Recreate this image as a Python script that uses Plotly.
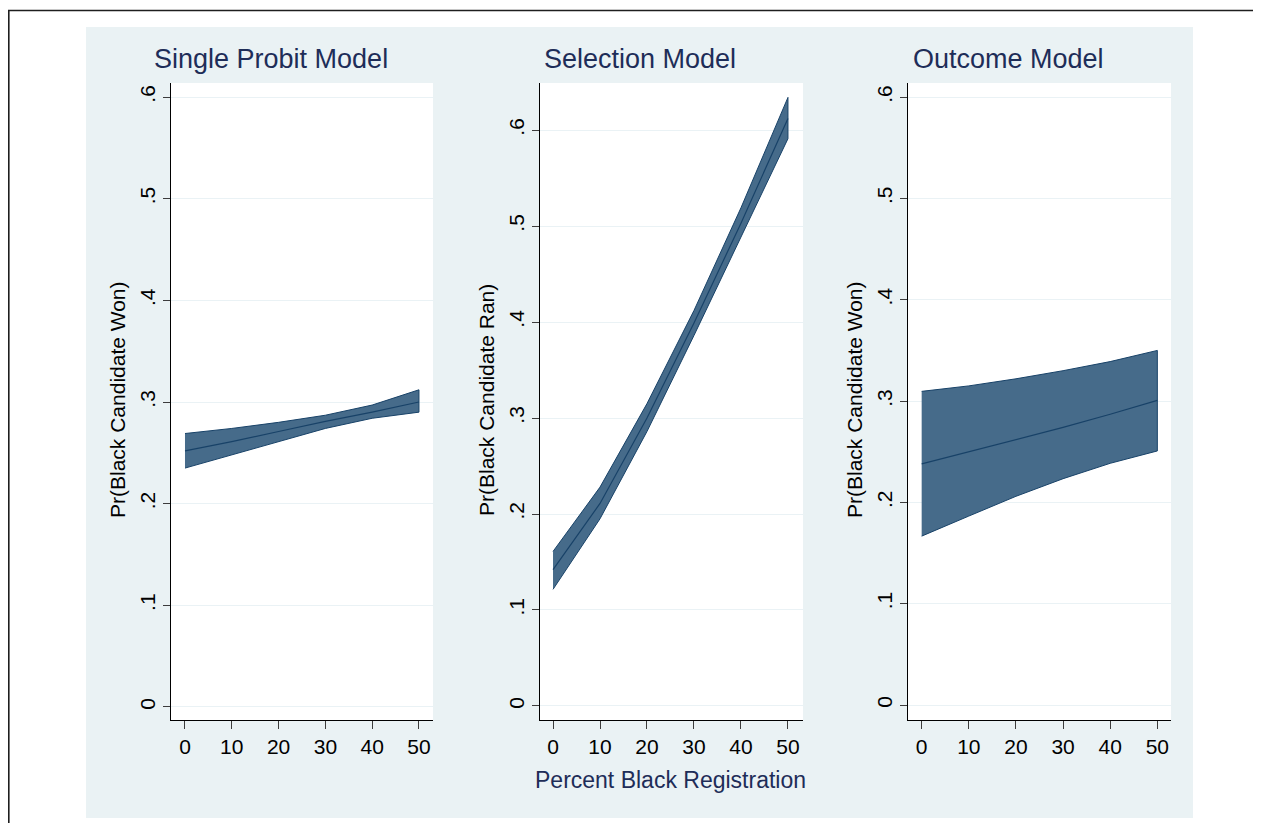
import plotly.graph_objects as go

# page body has an 8px margin; the figure is sized to fit the 1261x831 window exactly
OFF = 8
W, H = 1261 - 2 * OFF, 831 - 2 * OFF

# ---- data ----
x_pct = [0, 10, 20, 30, 40, 50]

probit_mean = [0.252, 0.261, 0.271, 0.281, 0.290, 0.300]
probit_upper = [0.269, 0.274, 0.280, 0.287, 0.297, 0.312]
probit_lower = [0.235, 0.248, 0.261, 0.274, 0.284, 0.290]

selection_mean = [0.142, 0.211, 0.300, 0.399, 0.503, 0.612]
selection_upper = [0.161, 0.228, 0.315, 0.412, 0.519, 0.634]
selection_lower = [0.1215, 0.195, 0.286, 0.386, 0.489, 0.591]

outcome_mean = [0.238, 0.250, 0.262, 0.274, 0.287, 0.3007]
outcome_upper = [0.3096, 0.315, 0.322, 0.330, 0.339, 0.350]
outcome_lower = [0.1667, 0.1865, 0.206, 0.2234, 0.2386, 0.2508]

panel_titles = ["Single Probit Model", "Selection Model", "Outcome Model"]
y_titles = ["Pr(Black Candidate Won)", "Pr(Black Candidate Ran)", "Pr(Black Candidate Won)"]
x_title = "Percent Black Registration"

y_tickvals = [0, 0.1, 0.2, 0.3, 0.4, 0.5, 0.6]
y_ticktext = ["0", ".1", ".2", ".3", ".4", ".5", ".6"]
x_tickvals = [0, 10, 20, 30, 40, 50]
x_ticktext = ["0", "10", "20", "30", "40", "50"]

# ---- style ----
FONT = "Liberation Sans, Arial, Helvetica, sans-serif"
BG_BLUE = "rgb(234,242,244)"
GRID = "rgb(234,242,245)"
FILL = "rgb(70,107,138)"
EDGE = "rgb(24,66,104)"
NAVY = "rgb(30,45,88)"

def px_x(p):
    return (p - OFF) / W

def px_y(p):
    return 1 - (p - OFF) / H

panels = [
    dict(mean=probit_mean, up=probit_upper, lo=probit_lower, xd=(171, 433), xr=[-2.99, 53.0], yr=[-0.0128, 0.6138]),
    dict(mean=selection_mean, up=selection_upper, lo=selection_lower, xd=(540, 803), xr=[-2.77, 53.2], yr=[-0.0146, 0.649]),
    dict(mean=outcome_mean, up=outcome_upper, lo=outcome_lower, xd=(908, 1171), xr=[-2.9, 52.9], yr=[-0.0148, 0.614]),
]
y_dom = [px_y(720), px_y(83)]

fig = go.Figure()
shapes = [
    dict(type="rect", xref="paper", yref="paper", x0=px_x(8.8), x1=px_x(1290), y0=px_y(10.5), y1=px_y(860),
         line=dict(color="rgb(30,30,30)", width=1.6), fillcolor="white", layer="below"),
    dict(type="rect", xref="paper", yref="paper", x0=px_x(86), x1=px_x(1193), y0=px_y(818), y1=px_y(27),
         line=dict(width=0), fillcolor=BG_BLUE, layer="below"),
]

layout_axes = {}
for i, p in enumerate(panels):
    n = i + 1
    xa = "x" if n == 1 else f"x{n}"
    ya = "y" if n == 1 else f"y{n}"
    band_x = x_pct + x_pct[::-1]
    band_y = p["up"] + p["lo"][::-1]
    fig.add_trace(go.Scatter(x=band_x, y=band_y, mode="lines", fill="toself", fillcolor=FILL,
                             line=dict(color=EDGE, width=1), xaxis=xa, yaxis=ya, showlegend=False,
                             hoverinfo="skip"))
    fig.add_trace(go.Scatter(x=x_pct, y=p["mean"], mode="lines", line=dict(color=EDGE, width=1.2),
                             xaxis=xa, yaxis=ya, showlegend=False))
    shapes.append(dict(type="rect", xref="paper", yref="paper", x0=px_x(p["xd"][0]), x1=px_x(p["xd"][1]),
                       y0=y_dom[0], y1=y_dom[1], line=dict(width=0), fillcolor="white", layer="below"))
    layout_axes[f"xaxis{'' if n == 1 else n}"] = dict(
        domain=[px_x(p["xd"][0]), px_x(p["xd"][1])], range=p["xr"], anchor=ya,
        tickvals=x_tickvals, ticktext=x_ticktext, ticks="outside", ticklen=8, tickwidth=1,
        tickcolor="rgb(60,60,60)", showline=True, linecolor="black", linewidth=1,
        showgrid=False, zeroline=False, tickfont=dict(family=FONT, size=21, color="black"),
    )
    layout_axes[f"yaxis{'' if n == 1 else n}"] = dict(
        domain=y_dom, range=p["yr"], anchor=xa,
        tickvals=y_tickvals, ticktext=y_ticktext, ticks="outside", ticklen=7, tickwidth=1,
        tickcolor="rgb(60,60,60)", showline=True, linecolor="black", linewidth=1,
        showgrid=True, gridcolor=GRID, gridwidth=1, zeroline=False, tickangle=-90,
        tickfont=dict(family=FONT, size=21, color="black"),
    )

annotations = []
title_x = [271, 640, 1008]
ytitle_x = [117, 486, 854]
for i in range(3):
    annotations.append(dict(text=panel_titles[i], x=px_x(title_x[i]), y=px_y(59), xref="paper", yref="paper",
                            showarrow=False, xanchor="center", yanchor="middle",
                            font=dict(family=FONT, size=27, color=NAVY)))
    annotations.append(dict(text=y_titles[i], x=px_x(ytitle_x[i]), y=px_y(400), xref="paper", yref="paper",
                            showarrow=False, xanchor="center", yanchor="middle", textangle=-90,
                            font=dict(family=FONT, size=21, color="black")))
annotations.append(dict(text=x_title, x=px_x(670), y=px_y(780), xref="paper", yref="paper",
                        showarrow=False, xanchor="center", yanchor="middle",
                        font=dict(family=FONT, size=23, color=NAVY)))

fig.update_layout(
    width=W, height=H, margin=dict(l=0, r=0, t=0, b=0),
    paper_bgcolor="white", plot_bgcolor="rgba(0,0,0,0)",
    shapes=shapes, annotations=annotations, showlegend=False,
    font=dict(family=FONT),
    **layout_axes,
)

fig.write_html("out.html")
